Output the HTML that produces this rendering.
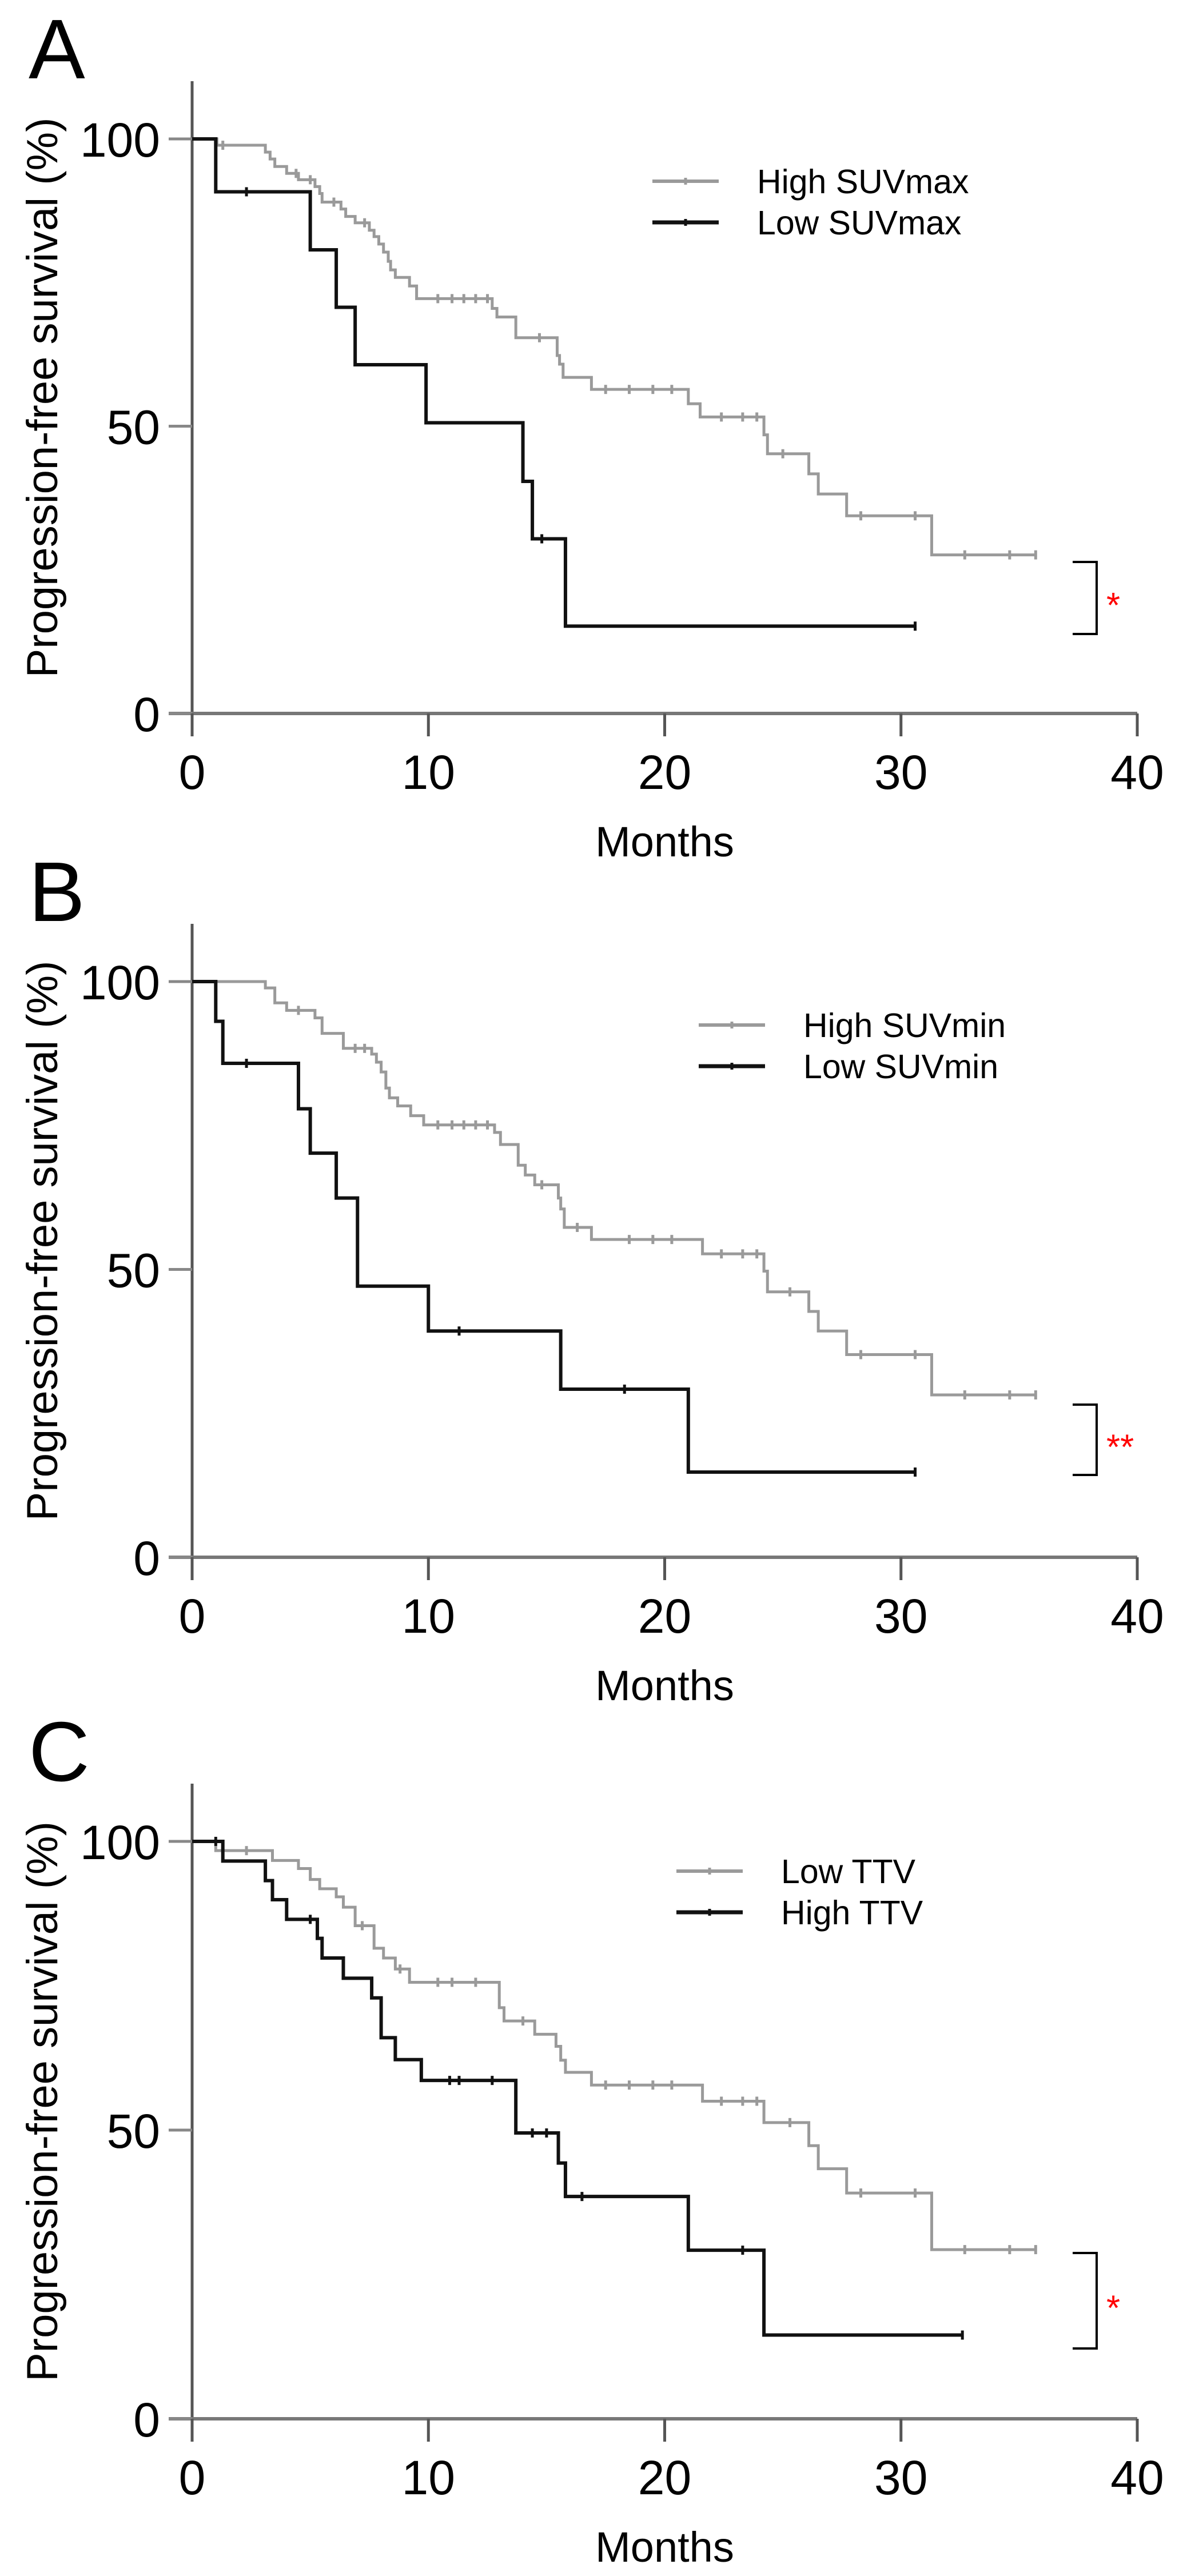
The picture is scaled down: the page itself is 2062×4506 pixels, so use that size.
<!DOCTYPE html>
<html><head><meta charset="utf-8">
<style>
html,body{margin:0;padding:0;background:#fff;}
svg{display:block;font-family:"Liberation Sans",Arial,sans-serif;}
</style></head>
<body>
<svg id="fig" width="2062" height="4506" viewBox="0 0 2062 4506" xmlns="http://www.w3.org/2000/svg"></svg>
<script>
// ---------- Panel A data ----------
const aHighT = [1.05,3.1,3.3,3.5,4.0,4.5,5.2,5.4,5.5,6.3,6.5,6.9,7.5,7.7,7.9,8.1,8.3,8.4,8.6,9.2,9.5,12.7,12.9,13.7,15.45,15.55,15.7,16.9,21.0,21.5,24.2,24.35,26.1,26.5,27.7,31.3];
const aHighS = [98.9,97.7,96.5,95.2,94.0,92.9,91.7,90.5,89.0,87.8,86.5,85.4,84.1,83.0,81.7,80.3,78.7,77.2,75.9,74.4,72.2,70.5,69.0,65.4,62.3,60.8,58.5,56.4,53.9,51.6,48.5,45.2,41.7,38.2,34.4,27.6];
const aHighC = [1.3,4.4,5.0,6.0,7.3,10.4,11.0,11.5,12.0,12.5,14.7,17.5,18.5,19.5,20.3,22.4,23.3,23.9,25.0,28.3,30.6,32.7,34.6];
const aHighEnd = 35.7;
const aLowT = [1.0,5.0,6.1,6.9,9.9,14.0,14.4,15.8];
const aLowS = [90.8,80.7,70.7,60.7,50.6,40.4,30.4,15.2];
const aLowC = [2.3,14.8];
const aLowEnd = 30.6;
// ---------- Panel B data ----------
const bHighT = [3.1,3.5,4.0,5.2,5.5,6.4,7.6,7.8,8.0,8.2,8.35,8.7,9.25,9.8,12.8,13.05,13.8,14.1,14.5,15.5,15.6,15.75,16.9,21.6,24.2,24.35,26.1,26.5,27.7,31.3];
const bHighS = [98.9,96.3,95.0,93.7,91.0,88.4,87.4,86.0,84.3,81.5,79.8,78.4,76.7,75.1,73.8,71.7,68.1,66.4,64.7,62.4,60.5,57.3,55.2,52.7,49.7,46.1,42.7,39.3,35.2,28.2];
const bHighC = [4.5,6.9,7.3,10.4,11.0,11.5,12.0,12.5,14.8,16.3,18.5,19.5,20.3,22.4,23.3,23.9,25.3,28.3,30.6,32.7,34.6];
const bHighEnd = 35.7;
const bLowT = [1.0,1.3,4.5,5.0,6.1,7.0,10.0,15.6,21.0];
const bLowS = [93.1,85.8,77.9,70.2,62.4,47.1,39.3,29.2,14.8];
const bLowC = [2.3,11.3,18.3];
const bLowEnd = 30.6;
// ---------- Panel C data ----------
const cLowT = [1.0,3.4,4.5,5.0,5.4,6.1,6.4,6.9,7.7,8.1,8.6,9.2,13.0,13.2,14.5,15.4,15.6,15.8,16.9,21.6,24.2,26.1,26.5,27.7,31.3];
const cLowS = [98.4,96.7,95.3,93.4,91.8,90.4,88.6,85.4,81.5,79.8,77.9,75.6,71.2,68.9,66.6,64.5,62.1,60.0,57.8,55.0,51.3,47.3,43.3,39.1,29.3];
const cLowC = [2.3,7.2,8.8,10.4,11.0,12.0,14.0,17.5,18.5,19.5,20.3,22.4,23.3,23.9,25.3,28.3,30.6,32.7,34.6];
const cLowEnd = 35.7;
const cHighT = [1.3,3.1,3.4,4.0,5.3,5.5,6.4,7.6,8.0,8.6,9.7,13.7,15.5,15.8,21.0,24.2];
const cHighS = [96.6,93.2,89.9,86.5,83.2,79.8,76.3,72.9,66.0,62.2,58.6,49.5,44.3,38.5,29.2,14.5];
const cHighC = [1.0,5.0,10.9,11.3,12.7,14.4,15.0,16.5,23.3];
const cHighEnd = 32.6;
const xTicks = [0,10,20,30,40];
const yTicks = [0,50,100];

const NS = "http://www.w3.org/2000/svg";
const svg = document.getElementById('fig');
const X0 = 336, X40 = 1989;
function sx(m){ return X0 + (X40 - X0) * m / 40; }
function mk(tag, attrs, parent){
  const e = document.createElementNS(NS, tag);
  for (const k in attrs) e.setAttribute(k, attrs[k]);
  (parent || svg).appendChild(e);
  return e;
}
function survAt(T, S, t){ let s = 100; for (let i = 0; i < T.length; i++) if (T[i] <= t) s = S[i]; return s; }

function panel(cfg){
  const g = mk('g', {});
  
  
  const y100 = cfg.y100, y0 = cfg.y0;
  const sy = v => y0 - (y0 - y100) * v / 100;
  const L = mk('text', {x: 50, y: cfg.y100 - 106, 'font-size': 148, fill: '#000'}, g);
  L.textContent = cfg.letter;
  
  
  const ya = mk('line', {x1: X0, y1: y100 - 101, x2: X0, y2: y0 + 40, stroke: '#555', 'stroke-width': 5}, g);
  
  
  const xa = mk('line', {x1: 295, y1: y0, x2: X40, y2: y0, stroke: '#777', 'stroke-width': 6}, g);
  
  
  yTicks.forEach(v => {
    const t = mk('line', {x1: 295, y1: sy(v), x2: X0, y2: sy(v), stroke: '#888', 'stroke-width': 5}, g);
    
    
    const tl = mk('text', {x: 280, y: sy(v) + 31, 'font-size': 84, 'text-anchor': 'end', fill: '#000'}, g);
    tl.textContent = v;
    
    
  });
  xTicks.forEach(v => {
    const t = mk('line', {x1: sx(v), y1: y0, x2: sx(v), y2: y0 + 40, stroke: '#555', 'stroke-width': 5}, g);
    
    
    const tl = mk('text', {x: sx(v), y: y0 + 132, 'font-size': 84, 'text-anchor': 'middle', fill: '#000'}, g);
    tl.textContent = v;
    
    
  });
  const xt = mk('text', {x: sx(20), y: y0 + 250, 'font-size': 74, 'text-anchor': 'middle', fill: '#000'}, g);
  xt.textContent = 'Months';
  
  
  const ycy = (y0 + y100) / 2 - 50;
  const yt = mk('text', {x: 0, y: 0, 'font-size': 76, 'text-anchor': 'middle', fill: '#000', transform: 'translate(100,' + ycy + ') rotate(-90)'}, g);
  yt.textContent = 'Progression-free survival (%)';
  
  
  cfg.series.forEach((s, idx) => {
    let d = 'M' + sx(0) + ',' + sy(100);
    s.T.forEach((t, i) => { d += ' H' + sx(t) + ' V' + sy(s.S[i]); });
    d += ' H' + sx(s.end);
    const p = mk('path', {d: d, fill: 'none', stroke: s.color, 'stroke-width': s.w}, g);
    
    
    const cens = s.C.concat([s.end]);
    cens.forEach(c => {
      const v = survAt(s.T, s.S, c);
      const m = mk('line', {x1: sx(c), y1: sy(v) - 8, x2: sx(c), y2: sy(v) + 8, stroke: s.color, 'stroke-width': 5}, g);
      
      
    });
    const ly = cfg.legY + idx * 72;
    const ll = mk('line', {x1: cfg.legX, y1: ly, x2: cfg.legX + 116, y2: ly, stroke: s.color, 'stroke-width': s.w + 1}, g);
    
    
    const lm = mk('line', {x1: cfg.legX + 58, y1: ly - 6, x2: cfg.legX + 58, y2: ly + 6, stroke: s.color, 'stroke-width': 5}, g);
    
    
    const lt = mk('text', {x: cfg.legX + 183, y: ly + 21, 'font-size': 59, fill: '#000'}, g);
    lt.textContent = s.label;
    
    
  });
  const b = mk('path', {d: 'M1876,' + cfg.br[0] + ' H1918 V' + cfg.br[1] + ' H1876', fill: 'none', stroke: '#000', 'stroke-width': 4}, g);
  
  
  const st = mk('text', {x: 1935, y: (cfg.br[0] + cfg.br[1]) / 2 + 34, 'font-size': 62, fill: '#ff0000'}, g);
  st.textContent = cfg.star;
  
  
}

panel({letter: 'A', y100: 243, y0: 1248, legX: 1141, legY: 317, br: [983, 1109], star: '*',
  series: [
    {name: 'high-suvmax', label: 'High SUVmax', T: aHighT, S: aHighS, C: aHighC, end: aHighEnd, color: '#9a9a9a', w: 5},
    {name: 'low-suvmax', label: 'Low SUVmax', T: aLowT, S: aLowS, C: aLowC, end: aLowEnd, color: '#111', w: 6}
  ]});
panel({letter: 'B', y100: 1717, y0: 2724, legX: 1222, legY: 1793, br: [2457, 2580], star: '**',
  series: [
    {name: 'high-suvmin', label: 'High SUVmin', T: bHighT, S: bHighS, C: bHighC, end: bHighEnd, color: '#9a9a9a', w: 5},
    {name: 'low-suvmin', label: 'Low SUVmin', T: bLowT, S: bLowS, C: bLowC, end: bLowEnd, color: '#111', w: 6}
  ]});
panel({letter: 'C', y100: 3221, y0: 4231, legX: 1183, legY: 3273, br: [3941, 4108], star: '*',
  series: [
    {name: 'low-ttv', label: 'Low TTV', T: cLowT, S: cLowS, C: cLowC, end: cLowEnd, color: '#9a9a9a', w: 5},
    {name: 'high-ttv', label: 'High TTV', T: cHighT, S: cHighS, C: cHighC, end: cHighEnd, color: '#111', w: 6}
  ]});
</script>
</body></html>
